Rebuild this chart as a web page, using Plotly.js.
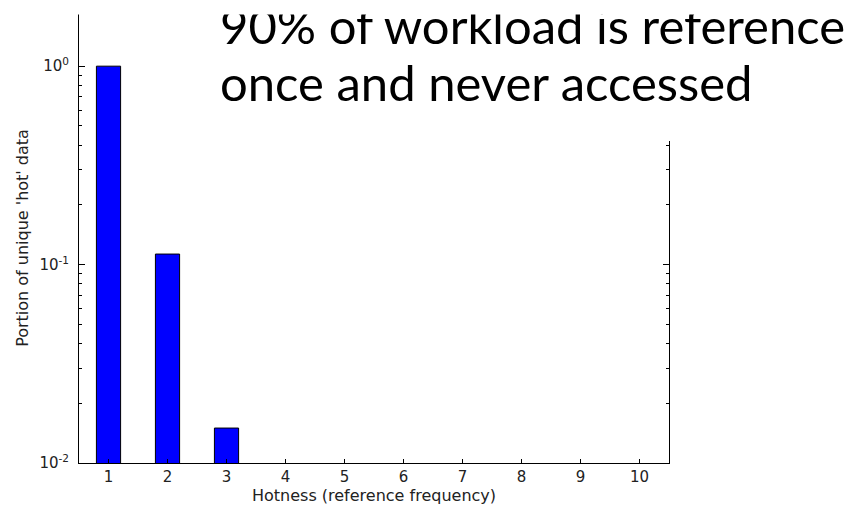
<!DOCTYPE html>
<html>
<head>
<meta charset="utf-8">
<script src="https://cdn.plot.ly/plotly-3.0.1.min.js"></script>
<style>
  html, body { margin: 0; padding: 0; background: #fff; }
  #chart { width: 865px; height: 505px; }
</style>
</head>
<body>
<div id="chart"></div>
<script>
// Share of unique "hot" data by reference frequency (log scale)
const hotness = [1, 2, 3];
const portion = [1.0, 0.113, 0.015];

const tickPositions = [1, 2, 3, 4, 5, 6, 7, 8, 9, 10];
const tickLabels = ['1', '2', '3', '4', '5', '6', '7', '8', '9', '10'];
const yTickValues = [0.01, 0.1, 1];
const yTickLabels = ['10<sup>-2</sup>', '10<sup>-1</sup>', '10<sup>0</sup>'];

const calloutLines = ['90% of workload is reference', 'once and never accessed'];

const tickFont = { family: 'DejaVu Sans, sans-serif', size: 15, color: '#222' };
const labelFont = { family: 'DejaVu Sans, sans-serif', size: 16, color: '#222' };
const calloutFont = { family: 'Lato, sans-serif', size: 49, color: '#000' };
const logRange = [-2, 0.268];

const traces = [{
  type: 'bar',
  x: hotness,
  y: portion,
  width: 0.41,
  marker: { color: '#0000ff', line: { color: '#000', width: 1 } },
  hoverinfo: 'x+y'
}, {
  // invisible carrier so the right-hand spine and its ticks are drawn
  type: 'scatter',
  x: [hotness[0]],
  y: [portion[0]],
  yaxis: 'y2',
  mode: 'markers',
  marker: { opacity: 0 },
  hoverinfo: 'skip',
  showlegend: false
}];

const layout = {
  width: 865,
  height: 505,
  margin: { l: 79, r: 196, t: 13, b: 42 },
  paper_bgcolor: '#fff',
  plot_bgcolor: '#fff',
  showlegend: false,
  xaxis: {
    range: [0.5, 10.5],
    tickmode: 'array',
    tickvals: tickPositions,
    ticktext: tickLabels,
    ticks: 'inside',
    ticklen: 4,
    tickcolor: '#000',
    showline: true,
    linecolor: '#000',
    linewidth: 1,
    showgrid: false,
    zeroline: false,
    tickfont: tickFont,
    automargin: false,
    title: { text: 'Hotness (reference frequency)', font: labelFont, standoff: 0 }
  },
  yaxis: {
    type: 'log',
    range: logRange,
    tickmode: 'array',
    tickvals: yTickValues,
    ticktext: yTickLabels,
    ticks: 'inside',
    ticklen: 6,
    tickcolor: '#000',
    minor: { ticks: 'inside', ticklen: 3, tickcolor: '#000', dtick: 'D1', showgrid: false },
    showline: true,
    linecolor: '#000',
    linewidth: 1,
    showgrid: false,
    zeroline: false,
    tickfont: tickFont,
    ticklabelstandoff: 6,
    automargin: false,
    title: { text: "Portion of unique 'hot' data", font: labelFont, standoff: 6 }
  },
  yaxis2: {
    type: 'log',
    range: logRange,
    overlaying: 'y',
    side: 'right',
    tickmode: 'array',
    tickvals: yTickValues,
    ticks: 'inside',
    ticklen: 6,
    tickcolor: '#000',
    minor: { ticks: 'inside', ticklen: 3, tickcolor: '#000', dtick: 'D1', showgrid: false },
    showticklabels: false,
    showline: true,
    linecolor: '#000',
    linewidth: 1,
    showgrid: false,
    zeroline: false
  },
  shapes: [{
    // white panel behind the callout text
    type: 'rect',
    xref: 'paper', yref: 'paper',
    x0: 0.2136, x1: 1.4, y0: 0.7156, y1: 1.1,
    fillcolor: '#fff',
    line: { width: 0 },
    layer: 'above'
  }],
  annotations: [{
    text: calloutLines[0],
    xref: 'paper', yref: 'paper',
    x: 0.2356, y: 0.9733,
    xanchor: 'left', yanchor: 'middle',
    showarrow: false,
    font: calloutFont
  }, {
    text: calloutLines[1],
    xref: 'paper', yref: 'paper',
    x: 0.2356, y: 0.8467,
    xanchor: 'left', yanchor: 'middle',
    showarrow: false,
    font: calloutFont
  }, {
    // blank strip along the top edge of the page
    text: ' ',
    xref: 'paper', yref: 'paper',
    x: -0.2, y: 1.0289,
    xanchor: 'left', yanchor: 'top',
    width: 1000, height: 13,
    borderpad: 0,
    bgcolor: '#fff',
    showarrow: false
  }]
};

Plotly.newPlot('chart', traces, layout, { displayModeBar: false, staticPlot: true });
</script>
</body>
</html>
